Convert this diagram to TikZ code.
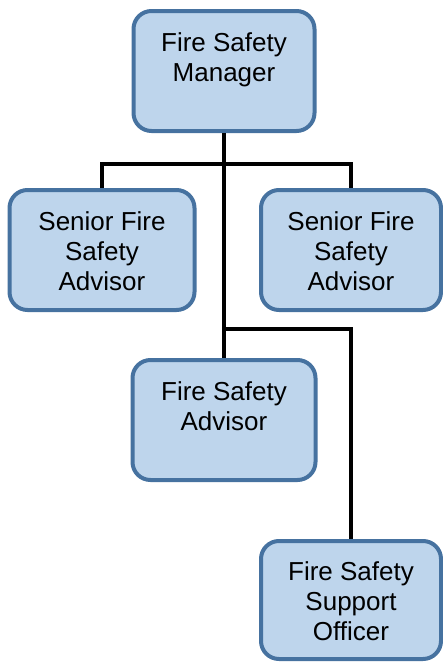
\documentclass[tikz,border=0pt]{standalone}
\usepackage{fontspec}
\setmainfont{Liberation Sans}
\definecolor{boxfill}{HTML}{BED5EC}
\definecolor{boxline}{HTML}{4672A0}
\begin{document}
\begin{tikzpicture}[x=1pt,y=-1pt,
  orgbox/.style={draw=boxline, fill=boxfill, line width=4pt, rounded corners=18pt,
    inner sep=0pt},
  boxtext/.style={label={[align=center, yshift=-4pt, inner sep=0pt,
    font=\fontsize{26}{30}\selectfont]center:#1}},
  conn/.style={draw=black, line width=4.5pt}]
\useasboundingbox (0,0) rectangle (443,662);
\node[orgbox, minimum width=181pt, minimum height=120pt,
  boxtext={\strut Fire Safety\\\strut Manager\\\strut}] (mgr) at (224,71) {};
\node[orgbox, minimum width=185pt, minimum height=120pt,
  boxtext={\strut Senior Fire\\\strut Safety\\\strut Advisor}] (sl) at (102,250) {};
\node[orgbox, minimum width=180pt, minimum height=120pt,
  boxtext={\strut Senior Fire\\\strut Safety\\\strut Advisor}] (sr) at (351,250) {};
\node[orgbox, minimum width=183pt, minimum height=120pt,
  boxtext={\strut Fire Safety\\\strut Advisor\\\strut}] (fsa) at (224,420) {};
\node[orgbox, minimum width=180pt, minimum height=118pt,
  boxtext={\strut Fire Safety\\\strut Support\\\strut Officer}] (fsso) at (351,600) {};
\coordinate (j2) at (224,329);
\draw[conn] (mgr.south) -- (fsa.north);
\draw[conn] (sl.north) -- ++(0,-24) -| (sr.north);
\draw[conn] (j2) -| (fsso.north);
\end{tikzpicture}
\end{document}
